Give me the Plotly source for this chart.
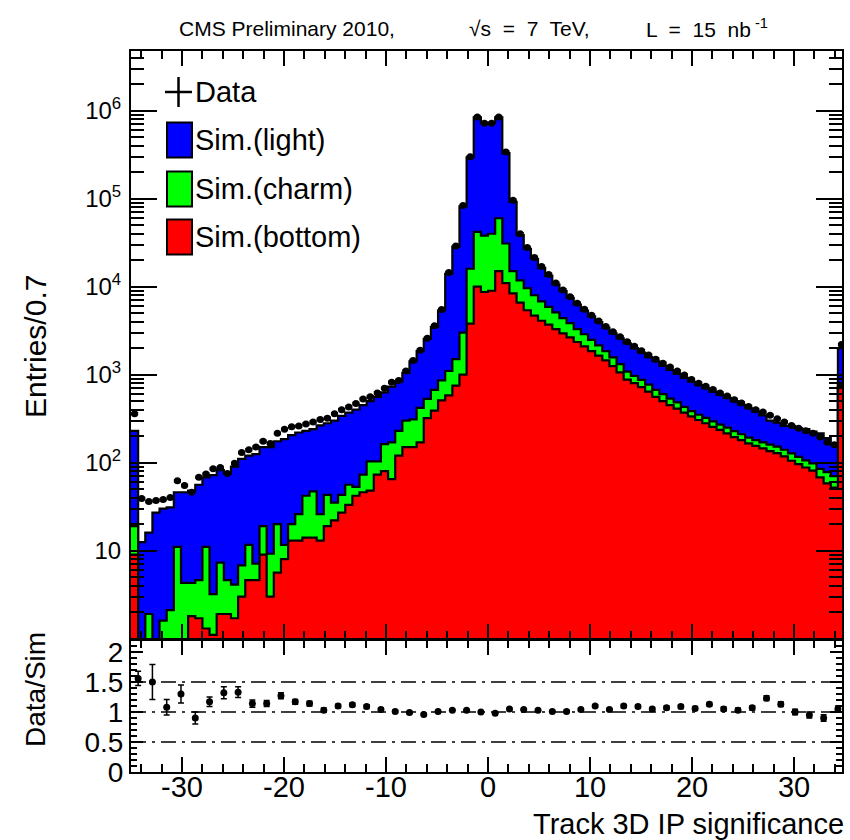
import numpy as np
import plotly.graph_objects as go

# ---------------- data ----------------
bin_width = 0.7
x_low = -35.0
n_bins = 100

data_counts = [360, 39, 36, 37, 38, 40, 62, 55, 46, 68,
               74, 85, 88, 75, 98, 130, 140, 150, 175, 165,
               215, 240, 255, 260, 275, 290, 310, 320, 360, 400,
               430, 470, 530, 560, 620, 700, 820, 860, 1100, 1450,
               1900, 2600, 3600, 5500, 14500, 29000, 84000, 300000, 850000, 720000,
               720000, 850000, 340000, 96000, 40000, 28000, 21500, 17000, 13800, 11000,
               9200, 7700, 6500, 5550, 4750, 4080, 3530, 3070, 2690, 2370,
               2100, 1870, 1670, 1500, 1350, 1220, 1100, 990, 880, 800,
               740, 680, 620, 570, 520, 475, 435, 400, 375, 345,
               315, 290, 265, 245, 230, 215, 195, 170, 160, 2200]

sim_bottom = [9, 0.3, 0.3, 0.3, 0.3, 0.3, 0.5, 0.8, 1.8, 1.7,
              1.3, 1.1, 1.9, 1.9, 1.7, 3.0, 4.6, 4.6, 9, 3.0,
              5.6, 8, 13, 13, 14, 14, 13, 19, 22, 27,
              33, 42, 46, 48, 73, 80, 65, 120, 150, 150,
              170, 320, 390, 510, 580, 750, 1000, 3800, 10000, 8700,
              9000, 15000, 11000, 8400, 6600, 5400, 4700, 4100, 3700, 3300,
              2950, 2650, 2350, 2100, 1850, 1650, 1450, 1250, 1060, 880,
              800, 720, 640, 560, 500, 450, 410, 370, 335, 305,
              280, 255, 235, 215, 195, 180, 165, 155, 145, 135,
              128, 118, 105, 96, 88, 81, 68, 58, 52, 720]

sim_charm = [10, 0.3, 1.6, 0.5, 1.3, 1.8, 10.5, 3.5, 2.5, 2.9,
             9.7, 2.1, 5.4, 2.7, 2.4, 3.8, 7.0, 2.5, 10, 6.2,
             14.4, 3.6, 7, 13, 28, 33, 13, 24, 13, 16,
             23, 11, 27, 55, 30, 82, 105, 110, 150, 160,
             250, 210, 280, 350, 520, 750, 2000, 12200, 32000, 29300,
             31000, 45000, 20000, 6600, 5200, 4200, 3300, 2700, 2200, 1800,
             1450, 1200, 950, 780, 630, 500, 400, 320, 260, 200,
             170, 150, 130, 110, 100, 85, 75, 60, 50, 45,
             42, 39, 35, 35, 33, 30, 27, 25, 25, 25,
             24, 22, 22, 20, 18, 17, 17, 20, 18, 40]

sim_light = [211, 11.9, 14.1, 26.2, 28.4, 28.9, 35, 41.7, 43.7, 51.4,
             57, 68.8, 74.7, 70.4, 85.9, 103.2, 108.4, 117.9, 131, 140.8,
             155, 173.4, 185, 194, 188, 193, 239, 237, 265, 297,
             314, 347, 377, 397, 457, 468, 560, 610, 750, 1110,
             1430, 2020, 2830, 4540, 12900, 27000, 79000, 279000, 798000, 692000,
             690000, 780000, 299000, 77000, 26700, 17400, 12800, 9600, 7400, 5500,
             4500, 3600, 2950, 2470, 2120, 1800, 1550, 1380, 1260, 1190,
             1030, 910, 810, 750, 660, 595, 535, 490, 445, 410,
             378, 346, 320, 295, 272, 245, 223, 200, 175, 140,
             133, 122, 135, 129, 134, 127, 130, 112, 90, 1240]

ratio_vals = [1.56, 1.50, 1.08, 1.30, 0.90, 1.17, 1.32, 1.33, 1.14, 1.14,
              1.27, 1.17, 1.14, 1.03, 1.10, 1.12, 1.09, 1.04, 1.01, 0.99,
              0.96, 1.01, 1.03, 1.03, 1.00, 0.98, 1.05, 1.04, 1.03, 1.01,
              1.01, 1.04, 1.10, 1.04, 1.10, 1.09, 1.05, 1.07, 1.09, 1.06,
              1.13, 1.05, 1.03, 1.07, 1.23, 1.13, 1.00, 0.95, 0.90, 1.05]
ratio_errs = [0.12, 0.29, 0.13, 0.15, 0.10, 0.08, 0.10, 0.09, 0.06, 0.05,
              0.05, 0.04, 0.04, 0.035, 0.03, 0.03, 0.03, 0.025, 0.02, 0.02,
              0.02, 0.015, 0.01, 0.01, 0.005, 0.005, 0.01, 0.01, 0.015, 0.015,
              0.02, 0.02, 0.02, 0.02, 0.025, 0.025, 0.025, 0.03, 0.03, 0.03,
              0.03, 0.035, 0.035, 0.035, 0.04, 0.04, 0.045, 0.05, 0.055, 0.05]
ratio_bin_width = 1.4

x_tick_vals = [-30, -20, -10, 0, 10, 20, 30]
x_tick_text = ["-30", "-20", "-10", "0", "10", "20", "30"]

# ---------------- derived geometry ----------------
edges = x_low + bin_width * np.arange(n_bins + 1)
centers = edges[:-1] + bin_width / 2
r_centers = x_low + ratio_bin_width * (np.arange(len(ratio_vals)) + 0.5)

lvl_b = np.array(sim_bottom, dtype=float)
lvl_c = lvl_b + np.array(sim_charm, dtype=float)
lvl_t = lvl_c + np.array(sim_light, dtype=float)


def step_y(v):
    return list(v) + [v[-1]]


FONT = "Liberation Sans, Arial, Helvetica, sans-serif"
W, H = 850, 840
L, R, T, B = 131, 8, 51, 68
PW, PH = W - L - R, H - T - B


def px(xpix):
    return (xpix - L) / PW


def py(ypix):
    return (H - B - ypix) / PH


fig = go.Figure()

floor = [0.05] * (n_bins + 1)
fig.add_trace(go.Scatter(x=edges, y=floor, mode="lines", line=dict(width=0),
                         showlegend=False, hoverinfo="skip", xaxis="x", yaxis="y"))
for lvl, col in [(lvl_b, "#ff0000"), (lvl_c, "#00ff00"), (lvl_t, "#0000ff")]:
    fig.add_trace(go.Scatter(x=edges, y=step_y(lvl), mode="lines", line_shape="hv",
                             line=dict(color="black", width=2.2), fill="tonexty",
                             fillcolor=col, showlegend=False, xaxis="x", yaxis="y"))

fig.add_trace(go.Scatter(x=centers, y=data_counts, mode="markers",
                         marker=dict(color="black", size=7, symbol="circle"),
                         error_x=dict(type="constant", value=bin_width / 2, color="black",
                                      thickness=3.5, width=0),
                         showlegend=False, xaxis="x", yaxis="y"))

fig.add_trace(go.Scatter(x=r_centers, y=ratio_vals, mode="markers",
                         marker=dict(color="black", size=7),
                         error_y=dict(type="data", array=ratio_errs, color="black",
                                      thickness=1.5, width=3),
                         showlegend=False, xaxis="x2", yaxis="y2"))

for yv in [0.5, 1.0, 1.5]:
    fig.add_shape(type="line", xref="x2 domain", yref="y2", x0=0, x1=1, y0=yv, y1=yv,
                  line=dict(color="black", width=1.5, dash="longdashdot"), layer="below")

axis_common = dict(showline=True, linecolor="black", linewidth=2, mirror="allticks",
                   ticks="inside", tickcolor="black", showgrid=False, zeroline=False)

main_bottom = py(638.5)
ratio_top = py(640)

minor_log = [m * 10 ** k for k in range(0, 7) for m in range(2, 10)]

fig.update_layout(
    width=W, height=H, margin=dict(l=L, r=R, t=T, b=B, autoexpand=False),
    paper_bgcolor="white", plot_bgcolor="white",
    font=dict(family=FONT, color="black"),
    xaxis=dict(axis_common, range=[-35, 34.7], domain=[0, 1], anchor="y",
               showticklabels=False, tickmode="linear", tick0=0, dtick=10, ticklen=15,
               tickwidth=1.5, minor=dict(ticks="inside", dtick=2, tick0=0, ticklen=8,
                                         tickcolor="black", tickwidth=1.5)),
    yaxis=dict(axis_common, type="log", range=[0, 6.68], domain=[main_bottom, 1],
               anchor="x", tickmode="array",
               tickvals=[10, 100, 1e3, 1e4, 1e5, 1e6],
               ticktext=["10", "10<sup>2</sup>", "10<sup>3</sup>", "10<sup>4</sup>",
                         "10<sup>5</sup>", "10<sup>6</sup>"],
               ticklen=26, tickwidth=1.5, tickfont=dict(size=24), ticklabelstandoff=3,
               minor=dict(ticks="inside", tickmode="array", tickvals=minor_log, ticklen=13,
                          tickcolor="black", tickwidth=1.5)),
    xaxis2=dict(axis_common, range=[-35, 34.7], domain=[0, 1], anchor="y2",
                tickmode="array", tickvals=x_tick_vals, ticktext=x_tick_text,
                ticklen=15, tickwidth=1.5, tickfont=dict(size=29), ticklabelstandoff=-12,
                minor=dict(ticks="inside", dtick=2, tick0=0, ticklen=8,
                           tickcolor="black", tickwidth=1.5)),
    yaxis2=dict(axis_common, range=[0, 2.2], domain=[0, ratio_top], anchor="x2",
                tickmode="array", tickvals=[0, 0.5, 1, 1.5, 2],
                ticktext=["0", "0.5", "1", "1.5", "2"], ticklen=12, tickwidth=1.5,
                tickfont=dict(size=28), ticklabelstandoff=0,
                minor=dict(ticks="inside", dtick=0.1, tick0=0, ticklen=6,
                           tickcolor="black", tickwidth=1.5)),
)

ann = []
# title in three pieces, placed as in the reference
ann.append(dict(text="CMS Preliminary 2010,", x=px(287), y=py(28), xanchor="center",
                yanchor="middle", font=dict(size=21)))
ann.append(dict(text="\u221as  =  7  TeV,", x=px(529), y=py(28), xanchor="center",
                yanchor="middle", font=dict(size=21)))
ann.append(dict(text="L  =  15  nb<sup> -1</sup>", x=px(707), y=py(28), xanchor="center",
                yanchor="middle", font=dict(size=21)))
ann.append(dict(text="Entries/0.7", x=px(35), y=py(347), textangle=-90, xanchor="center",
                yanchor="middle", font=dict(size=30)))
ann.append(dict(text="Data/Sim", x=px(35), y=py(690), textangle=-90, xanchor="center",
                yanchor="middle", font=dict(size=28)))
ann.append(dict(text="Track 3D IP significance", x=px(846), y=py(824), xanchor="right",
                yanchor="middle", font=dict(size=29)))
legend_entries = [("Data", 92), ("Sim.(light)", 140), ("Sim.(charm)", 189), ("Sim.(bottom)", 237)]
for txt, yc in legend_entries:
    ann.append(dict(text=txt, x=px(193), y=py(yc), xanchor="left", yanchor="middle",
                    font=dict(size=29)))
for a in ann:
    a.update(xref="paper", yref="paper", showarrow=False)
fig.update_layout(annotations=ann)

# legend symbols
fig.add_shape(type="line", xref="paper", yref="paper", x0=px(165), x1=px(192),
              y0=py(92), y1=py(92), line=dict(color="black", width=2.5))
fig.add_shape(type="line", xref="paper", yref="paper", x0=px(178.5), x1=px(178.5),
              y0=py(77), y1=py(107), line=dict(color="black", width=2.5))
for (yc, col) in [(140, "#0000ff"), (189, "#00ff00"), (237, "#ff0000")]:
    fig.add_shape(type="rect", xref="paper", yref="paper", x0=px(167), x1=px(192),
                  y0=py(yc - 17.5), y1=py(yc + 17.5), fillcolor=col,
                  line=dict(color="black", width=2))

fig.write_html("out.html", config={"displayModeBar": False},
               post_script="document.body.style.margin='0px';document.body.style.overflow='hidden';")
